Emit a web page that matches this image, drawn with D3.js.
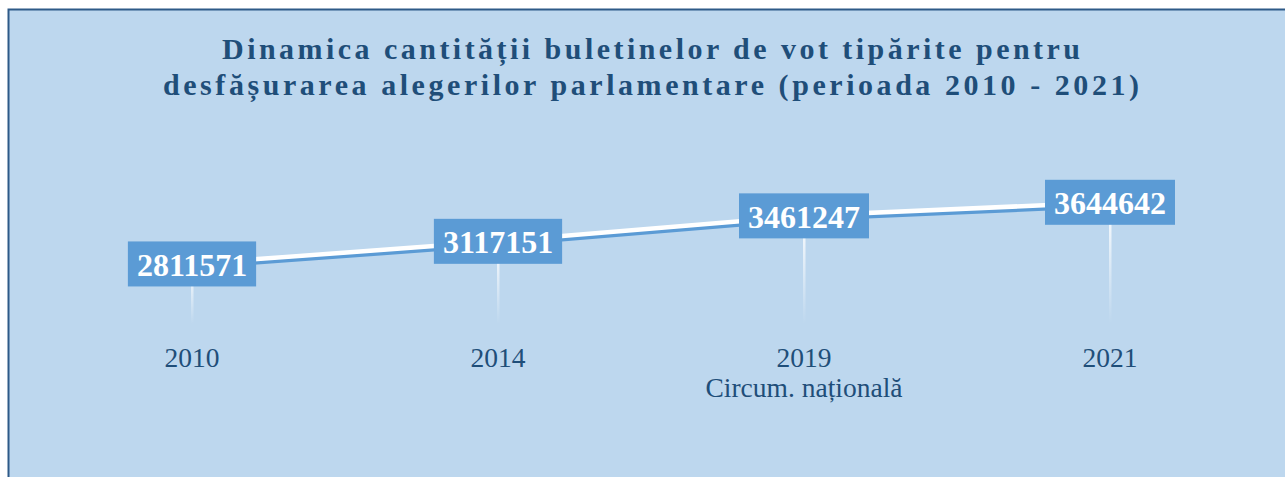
<!DOCTYPE html>
<html>
<head>
<meta charset="utf-8">
<script src="https://cdn.jsdelivr.net/npm/d3@7"></script>
<style>
  html, body { margin: 0; padding: 0; background: #ffffff; }
  svg { display: block; }
</style>
</head>
<body>
<svg id="chart" width="1285" height="477"></svg>
<script>
// ---- data ----
const categories = ["2010", "2014", "2019", "2021"];
const subLabels = ["", "", "Circum. națională", ""];
const values = [2811571, 3117151, 3461247, 3644642];
const titleLines = [
  "Dinamica cantității buletinelor de vot tipărite pentru",
  "desfășurarea alegerilor parlamentare (perioada 2010 - 2021)"
];
const yDomain = [2000000, 4000000];

// ---- setup ----
const svg = d3.select("#chart");
const W = 1285, H = 477;
const bg = "#BDD7EE", boxColor = "#5B9BD5", textDark = "#1F4E79";

svg.append("rect").attr("x", 8.5).attr("y", 9.5).attr("width", W + 20).attr("height", H + 20)
  .attr("fill", bg).attr("stroke", "#2E5A88").attr("stroke-width", 2);

// title
const title = svg.append("g");
const titleWidths = [858, 976];
const titleY = [59, 95];
titleLines.forEach((t, i) => {
  title.append("text")
    .attr("x", 651).attr("y", titleY[i])
    .attr("text-anchor", "middle")
    .attr("font-family", "'Liberation Serif', 'Times New Roman', serif")
    .attr("font-weight", "bold")
    .attr("font-size", 30)
    .attr("fill", textDark)
    .attr("textLength", titleWidths[i])
    .attr("lengthAdjust", "spacing")
    .text(t);
});

// scales
const x = d3.scalePoint().domain(categories).range([192, 1110]);
const y = d3.scaleLinear().domain(yDomain).range([324, 176]);

const data = categories.map((c, i) => ({ c, v: values[i], sub: subLabels[i] }));

// gradient for drop lines
const defs = svg.append("defs");
const grad = defs.append("linearGradient").attr("id", "dropGrad")
  .attr("x1", 0).attr("y1", 0).attr("x2", 0).attr("y2", 1);
grad.append("stop").attr("offset", "0%").attr("stop-color", "#ffffff").attr("stop-opacity", 0.95);
grad.append("stop").attr("offset", "100%").attr("stop-color", "#ffffff").attr("stop-opacity", 0);

// drop lines
svg.append("g").selectAll("rect").data(data).join("rect")
  .attr("x", d => x(d.c) - 1)
  .attr("y", d => y(d.v))
  .attr("width", 2.5)
  .attr("height", d => y(yDomain[0]) - y(d.v))
  .attr("fill", "url(#dropGrad)");

// line with shadow
const line = d3.line().x(d => x(d.c)).y(d => y(d.v));
svg.append("path").datum(data).attr("d", line)
  .attr("transform", "translate(0,3.5)")
  .attr("fill", "none").attr("stroke", boxColor).attr("stroke-width", 4);
svg.append("path").datum(data).attr("d", line)
  .attr("fill", "none").attr("stroke", "#ffffff").attr("stroke-width", 4.5);

// data labels
const lbl = svg.append("g").selectAll("g").data(data).join("g")
  .attr("transform", d => `translate(${x(d.c)},${y(d.v)})`);
lbl.append("text")
  .attr("text-anchor", "middle")
  .attr("y", 12)
  .attr("font-family", "'Liberation Serif', 'Times New Roman', serif")
  .attr("font-weight", "bold")
  .attr("font-size", 32)
  .attr("fill", "#ffffff")
  .text(d => d.v);
lbl.each(function () {
  const g = d3.select(this);
  const bb = g.select("text").node().getBBox();
  const w = bb.width + 18;
  g.insert("rect", "text")
    .attr("x", -w / 2).attr("y", -22.5)
    .attr("width", w).attr("height", 45)
    .attr("fill", boxColor);
});

// category labels
const cat = svg.append("g").selectAll("text").data(data).join("text")
  .attr("x", d => x(d.c))
  .attr("y", 367)
  .attr("text-anchor", "middle")
  .attr("font-family", "'Liberation Serif', 'Times New Roman', serif")
  .attr("font-size", 27.5)
  .attr("fill", textDark);
cat.append("tspan").attr("x", d => x(d.c)).text(d => d.c);
cat.append("tspan").attr("x", d => x(d.c)).attr("dy", 30).text(d => d.sub);
</script>
</body>
</html>
